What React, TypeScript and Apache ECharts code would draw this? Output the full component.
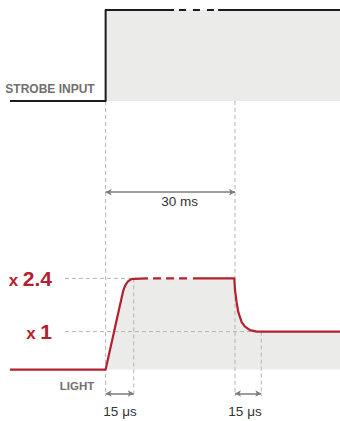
import React, { useEffect, useRef } from "react";
import * as echarts from "echarts";

// schematic time axis (arbitrary units, strobe edge at 0) and level axes
const T_MIN = -51;
const T_MAX = 125;
const LEVEL_MIN = -0.8;
const LEVEL_MAX = 7.2;

// strobe input: 0 = off, 1 = on
const strobeLineA: number[][] = [[-51, 0], [0, 0], [0, 1], [36.5, 1]];
const strobeBreak: number[][] = [[39.1, 1], [57.8, 1]];
const strobeLineB: number[][] = [[60, 1], [125, 1]];
const strobeFill: number[][] = [[0, 1], [125, 1]];

// light output, relative to nominal (x 1)
const lightRise: number[][] = [
  [-51, 0], [0, 0], [8.57, 1.9], [9.27, 2.05], [10.07, 2.17], [10.87, 2.25],
  [11.93, 2.32], [13.27, 2.37], [14.87, 2.39], [15, 2.4], [22.6, 2.4],
];
const lightBreak: number[][] = [[25.3, 2.4], [43.4, 2.4]];
const lightFall: number[][] = [
  [46.6, 2.4], [68.63, 2.4], [69, 2.1], [69.9, 1.76], [70.76, 1.51], [72.57, 1.25],
  [74.33, 1.13], [77, 1.04], [80.57, 1], [125, 1],
];
const lightFill: number[][] = [...lightRise.slice(1), ...lightFall];

// level labels and guides
const levelTicks = [1, 2.4];
const guideStart = -21.7;
const guideLevels = [2.4, 1];
const guideEnds = [15, 83];
const markerTimes = [0, 15, 69, 83];
const markerTops = [7.07, 2.4, 7.07, 1];
const markerBottom = -0.7;
const spanFrom = [0, 0, 69];
const spanTo = [69, 15, 83];
const spanLevel = [4.67, -0.63, -0.63];

const RED = "#b3202e";
const INK = "#1c1c1c";
const FILL = "#ebebea";
const GUIDE = "#b4b4b4";
const FONT = '"Liberation Sans", Arial, Helvetica, sans-serif';

export default function App() {
  const ref = useRef<HTMLDivElement>(null);

  useEffect(() => {
    if (!ref.current) return;
    const chart = echarts.init(ref.current, null, { renderer: "svg" });

    const dashed = (data: number[][], color: string, width: number, dash: number[]) => ({
      type: "line",
      xAxisIndex: 1,
      yAxisIndex: 1,
      data,
      showSymbol: false,
      silent: true,
      lineStyle: { color, width, type: dash },
    });

    const series: any[] = [
      {
        type: "line", xAxisIndex: 0, yAxisIndex: 0, data: strobeFill, showSymbol: false, silent: true,
        lineStyle: { width: 0 }, areaStyle: { color: FILL, opacity: 1 },
      },
      {
        type: "line", xAxisIndex: 1, yAxisIndex: 1, data: lightFill, showSymbol: false, silent: true,
        lineStyle: { width: 0 }, areaStyle: { color: FILL, opacity: 1 },
      },
    ];
    guideLevels.forEach((lv, i) => {
      series.push(dashed([[guideStart, lv], [guideEnds[i], lv]], GUIDE, 1, [4, 3]));
    });
    markerTimes.forEach((t, i) => {
      series.push(dashed([[t, markerTops[i]], [t, markerBottom]], GUIDE, 1, [4, 3]));
    });
    const solid = (data: number[][], axis: number, color: string, width: number, dash?: number[]) => ({
      type: "line",
      xAxisIndex: axis,
      yAxisIndex: axis,
      data,
      showSymbol: false,
      silent: true,
      lineStyle: { color, width, type: dash || "solid", cap: "butt", join: "round" },
    });
    series.push(solid(strobeLineA, 0, INK, 2));
    series.push(solid(strobeBreak, 0, INK, 2, [7, 7]));
    series.push(solid(strobeLineB, 0, INK, 2));
    series.push(solid(lightRise, 1, RED, 2.2));
    series.push(solid(lightBreak, 1, RED, 2.2, [8, 5]));
    series.push(solid(lightFall, 1, RED, 2.2));
    series.push({
      type: "line",
      xAxisIndex: 1,
      yAxisIndex: 1,
      data: [],
      silent: true,
      markLine: {
        silent: true,
        animation: false,
        symbol: ["arrow", "arrow"],
        symbolSize: [5, 6],
        lineStyle: { color: "#7c7c7c", width: 1.5, type: "solid" },
        label: { show: false },
        emphasis: { disabled: true },
        data: spanFrom.map((f, i) => [
          { coord: [f, spanLevel[i]] },
          { coord: [spanTo[i], spanLevel[i]] },
        ]),
      },
    });

    const txt = (x: number, y: number, text: string, font: string, fill: string) => ({
      type: "text",
      x,
      y,
      silent: true,
      style: { text, font, fill, align: "center", verticalAlign: "middle" },
    });

    chart.setOption({
      animation: false,
      backgroundColor: "#ffffff",
      grid: [
        { left: 10, right: 0, top: 10, height: 91 },
        { left: 10, right: 0, top: 96, height: 304 },
      ],
      xAxis: [
        { type: "value", gridIndex: 0, min: T_MIN, max: T_MAX, show: false },
        { type: "value", gridIndex: 1, min: T_MIN, max: T_MAX, show: false },
      ],
      yAxis: [
        { type: "value", gridIndex: 0, min: 0, max: 1, show: false },
        {
          type: "value",
          gridIndex: 1,
          min: LEVEL_MIN,
          max: LEVEL_MAX,
          position: "left",
          offset: -44,
          axisLine: { show: false },
          axisTick: { show: false },
          splitLine: { show: false },
          axisLabel: {
            customValues: levelTicks,
            margin: 2,
            formatter: (v: number) => "{x|x }{n|" + v + "}",
            rich: {
              x: { fontSize: 17, fontWeight: "bold", color: RED, fontFamily: FONT, verticalAlign: "bottom", lineHeight: 21 },
              n: { fontSize: 21, fontWeight: "bold", color: RED, fontFamily: FONT, verticalAlign: "bottom", lineHeight: 21 },
            },
          },
        },
      ],
      series,
      graphic: [
        txt(50, 89, "STROBE INPUT", "bold 12px " + FONT, "#707070"),
        txt(77, 386, "LIGHT", "bold 11.5px " + FONT, "#707070"),
        txt(179.5, 201.5, "30 ms", "13.5px " + FONT, "#333333"),
        txt(120, 411, "15 μs", "13.5px " + FONT, "#333333"),
        txt(245, 411, "15 μs", "13.5px " + FONT, "#333333"),
      ],
    });

    return () => chart.dispose();
  }, []);

  return (
    <div
      ref={ref}
      style={{ position: "absolute", left: 0, top: 0, width: 340, height: 421 }}
    />
  );
}
